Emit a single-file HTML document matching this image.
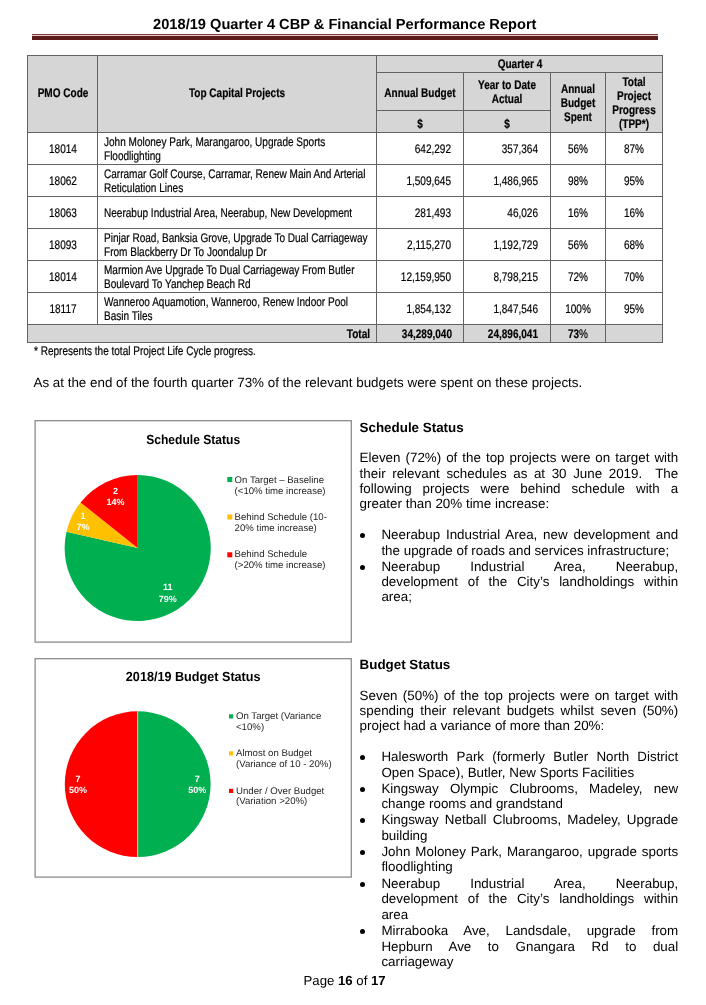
<!DOCTYPE html><html><head><meta charset='utf-8'><title>2018/19 Quarter 4 CBP &amp; Financial Performance Report</title><style>
*{margin:0;padding:0;box-sizing:border-box}
html,body{width:706px;height:1005px;background:#fff;overflow:hidden}
body{position:relative;font-family:"Liberation Sans",Arial,sans-serif;color:#000;text-rendering:geometricPrecision}
.a{position:absolute;white-space:nowrap}
.n{position:absolute;white-space:nowrap;font-size:12.5px;line-height:14px;height:14px;transform:scaleX(0.8024);-webkit-text-stroke:0.2px #000}
.nl{transform-origin:0 50%}
.nc{transform-origin:50% 50%;text-align:center}
.nr{transform-origin:100% 50%;text-align:right}
.b{font-weight:700}
.t{position:absolute;font-size:13.38px;line-height:15.39px;height:15.39px;white-space:pre-wrap;overflow:visible}
.j{text-align:justify;text-align-last:justify}
.ln{position:absolute;background:#626262}

.bul{position:absolute;width:5.2px;height:5.2px;border-radius:50%;background:#000}
svg text{font-family:"Liberation Sans",Arial,sans-serif}
</style></head><body>
<div class='a b' style='left:0;width:689.6px;text-align:center;top:17.06px;font-size:14.64px;line-height:17px'>2018/19 Quarter 4 CBP &amp; Financial Performance Report</div>
<div class='a' style='left:32px;top:34px;width:625.5px;height:1px;background:#7a3b3b'></div>
<div class='a' style='left:32px;top:35px;width:625.5px;height:1px;background:#e9c9c9'></div>
<div class='a' style='left:32px;top:36px;width:625.5px;height:3.5px;background:#5c1a1b'></div>
<div class='a' style='left:27px;top:55px;width:636px;height:77px;background:#d6d6d6'></div>
<div class='a' style='left:27px;top:324px;width:636px;height:17.5px;background:#d6d6d6'></div>
<div class='ln' style='left:27px;top:55px;width:636px;height:1px'></div>
<div class='ln' style='left:376px;top:72px;width:287px;height:1px'></div>
<div class='ln' style='left:376px;top:110px;width:175px;height:1px'></div>
<div class='ln' style='left:27px;top:132px;width:636px;height:1px'></div>
<div class='ln' style='left:27px;top:164px;width:636px;height:1px'></div>
<div class='ln' style='left:27px;top:196px;width:636px;height:1px'></div>
<div class='ln' style='left:27px;top:228px;width:636px;height:1px'></div>
<div class='ln' style='left:27px;top:260px;width:636px;height:1px'></div>
<div class='ln' style='left:27px;top:292px;width:636px;height:1px'></div>
<div class='ln' style='left:27px;top:324px;width:636px;height:1px'></div>
<div class='ln' style='left:27px;top:341.5px;width:636px;height:1px'></div>
<div class='ln' style='left:27px;top:55px;width:1px;height:287.5px'></div>
<div class='ln' style='left:662px;top:55px;width:1px;height:287.5px'></div>
<div class='ln' style='left:97px;top:55px;width:1px;height:270px'></div>
<div class='ln' style='left:376px;top:55px;width:1px;height:287.5px'></div>
<div class='ln' style='left:463px;top:72px;width:1px;height:270.5px'></div>
<div class='ln' style='left:550px;top:72px;width:1px;height:270.5px'></div>
<div class='ln' style='left:605px;top:72px;width:1px;height:270.5px'></div>
<div class='n nc b' style='left:-87.5px;width:300px;top:86.27px'>PMO Code</div>
<div class='n nc b' style='left:87px;width:300px;top:86.27px'>Top Capital Projects</div>
<div class='n nc b' style='left:369.5px;width:300px;top:57.27px'>Quarter 4</div>
<div class='n nc b' style='left:269.6px;width:300px;top:85.67px'>Annual Budget</div>
<div class='n nc b' style='left:357px;width:300px;top:78.17px'>Year to Date</div>
<div class='n nc b' style='left:357px;width:300px;top:92.27px'>Actual</div>
<div class='n nc b' style='left:269.5px;width:300px;top:116.97px'>$</div>
<div class='n nc b' style='left:357px;width:300px;top:116.97px'>$</div>
<div class='n nc b' style='left:427.79999999999995px;width:300px;top:82.37px'>Annual</div>
<div class='n nc b' style='left:427.79999999999995px;width:300px;top:96.27px'>Budget</div>
<div class='n nc b' style='left:427.79999999999995px;width:300px;top:110.17px'>Spent</div>
<div class='n nc b' style='left:483.79999999999995px;width:300px;top:75.47px'>Total</div>
<div class='n nc b' style='left:483.79999999999995px;width:300px;top:89.37px'>Project</div>
<div class='n nc b' style='left:483.79999999999995px;width:300px;top:103.27px'>Progress</div>
<div class='n nc b' style='left:483.79999999999995px;width:300px;top:117.17px'>(TPP*)</div>
<div class='n nc' style='left:-87.3px;width:300px;top:141.97px'>18014</div>
<div class='n nl' style='left:104px;top:134.87px'>John Moloney Park, Marangaroo, Upgrade Sports</div>
<div class='n nl' style='left:104px;top:149.07px'>Floodlighting</div>
<div class='n nr' style='left:150.60000000000002px;width:300px;top:141.97px'>642,292</div>
<div class='n nr' style='left:237.79999999999995px;width:300px;top:141.97px'>357,364</div>
<div class='n nc' style='left:428.29999999999995px;width:300px;top:141.97px'>56%</div>
<div class='n nc' style='left:484px;width:300px;top:141.97px'>87%</div>
<div class='n nc' style='left:-87.3px;width:300px;top:173.97px'>18062</div>
<div class='n nl' style='left:104px;top:166.87px'>Carramar Golf Course, Carramar, Renew Main And Arterial</div>
<div class='n nl' style='left:104px;top:181.07px'>Reticulation Lines</div>
<div class='n nr' style='left:150.60000000000002px;width:300px;top:173.97px'>1,509,645</div>
<div class='n nr' style='left:237.79999999999995px;width:300px;top:173.97px'>1,486,965</div>
<div class='n nc' style='left:428.29999999999995px;width:300px;top:173.97px'>98%</div>
<div class='n nc' style='left:484px;width:300px;top:173.97px'>95%</div>
<div class='n nc' style='left:-87.3px;width:300px;top:205.97px'>18063</div>
<div class='n nl' style='left:104px;top:205.97px'>Neerabup Industrial Area, Neerabup, New Development</div>
<div class='n nr' style='left:150.60000000000002px;width:300px;top:205.97px'>281,493</div>
<div class='n nr' style='left:237.79999999999995px;width:300px;top:205.97px'>46,026</div>
<div class='n nc' style='left:428.29999999999995px;width:300px;top:205.97px'>16%</div>
<div class='n nc' style='left:484px;width:300px;top:205.97px'>16%</div>
<div class='n nc' style='left:-87.3px;width:300px;top:237.97px'>18093</div>
<div class='n nl' style='left:104px;top:230.87px'>Pinjar Road, Banksia Grove, Upgrade To Dual Carriageway</div>
<div class='n nl' style='left:104px;top:245.07px'>From Blackberry Dr To Joondalup Dr</div>
<div class='n nr' style='left:150.60000000000002px;width:300px;top:237.97px'>2,115,270</div>
<div class='n nr' style='left:237.79999999999995px;width:300px;top:237.97px'>1,192,729</div>
<div class='n nc' style='left:428.29999999999995px;width:300px;top:237.97px'>56%</div>
<div class='n nc' style='left:484px;width:300px;top:237.97px'>68%</div>
<div class='n nc' style='left:-87.3px;width:300px;top:269.97px'>18014</div>
<div class='n nl' style='left:104px;top:262.87px'>Marmion Ave Upgrade To Dual Carriageway From Butler</div>
<div class='n nl' style='left:104px;top:277.07px'>Boulevard To Yanchep Beach Rd</div>
<div class='n nr' style='left:150.60000000000002px;width:300px;top:269.97px'>12,159,950</div>
<div class='n nr' style='left:237.79999999999995px;width:300px;top:269.97px'>8,798,215</div>
<div class='n nc' style='left:428.29999999999995px;width:300px;top:269.97px'>72%</div>
<div class='n nc' style='left:484px;width:300px;top:269.97px'>70%</div>
<div class='n nc' style='left:-87.3px;width:300px;top:301.97px'>18117</div>
<div class='n nl' style='left:104px;top:294.87px'>Wanneroo Aquamotion, Wanneroo, Renew Indoor Pool</div>
<div class='n nl' style='left:104px;top:309.07px'>Basin Tiles</div>
<div class='n nr' style='left:150.60000000000002px;width:300px;top:301.97px'>1,854,132</div>
<div class='n nr' style='left:237.79999999999995px;width:300px;top:301.97px'>1,847,546</div>
<div class='n nc' style='left:428.29999999999995px;width:300px;top:301.97px'>100%</div>
<div class='n nc' style='left:484px;width:300px;top:301.97px'>95%</div>
<div class='n nr b' style='left:69.5px;width:300px;top:326.82px'>Total</div>
<div class='n nr b' style='left:151.8px;width:300px;top:326.82px'>34,289,040</div>
<div class='n nr b' style='left:237.79999999999995px;width:300px;top:326.82px'>24,896,041</div>
<div class='n nc' style='left:428.29999999999995px;width:300px;top:326.82px'><b>73</b>%</div>
<div class='n nl' style='left:34px;top:344.27px'>* Represents the total Project Life Cycle progress.</div>
<div class='t' style='left:33.5px;top:374.95px;'>As at the end of the fourth quarter 73% of the relevant budgets were spent on these projects.</div>
<div class='t b' style='left:359.6px;top:419.95px;'>Schedule Status</div>
<div class='t j' style='left:359.6px;top:449.95px;width:318.6px;'>Eleven (72%) of the top projects were on target with</div>
<div class='t j' style='left:359.6px;top:465.95px;width:318.6px;'>their relevant schedules as at 30 June 2019.  The</div>
<div class='t j' style='left:359.6px;top:480.95px;width:318.6px;'>following projects were behind schedule with a</div>
<div class='t' style='left:359.6px;top:495.95px;'>greater than 20% time increase:</div>
<div class='bul' style='left:360.0px;top:533.20px'></div>
<div class='t j' style='left:381.4px;top:526.95px;width:296.80000000000007px;'>Neerabup Industrial Area, new development and</div>
<div class='t' style='left:381.4px;top:542.95px;'>the upgrade of roads and services infrastructure;</div>
<div class='bul' style='left:360.0px;top:564.70px'></div>
<div class='t j' style='left:381.4px;top:558.95px;width:296.80000000000007px;'>Neerabup Industrial Area, Neerabup,</div>
<div class='t j' style='left:381.4px;top:573.95px;width:296.80000000000007px;'>development of the City’s landholdings within</div>
<div class='t' style='left:381.4px;top:588.95px;'>area;</div>
<div class='t b' style='left:359.6px;top:656.95px;'>Budget Status</div>
<div class='t j' style='left:359.6px;top:687.95px;width:318.6px;'>Seven (50%) of the top projects were on target with</div>
<div class='t j' style='left:359.6px;top:702.95px;width:318.6px;'>spending their relevant budgets whilst seven (50%)</div>
<div class='t' style='left:359.6px;top:717.95px;'>project had a variance of more than 20%:</div>
<div class='bul' style='left:360.0px;top:755.20px'></div>
<div class='t j' style='left:381.4px;top:748.95px;width:296.80000000000007px;'>Halesworth Park (formerly Butler North District</div>
<div class='t' style='left:381.4px;top:764.95px;'>Open Space), Butler, New Sports Facilities</div>
<div class='bul' style='left:360.0px;top:787.00px'></div>
<div class='t j' style='left:381.4px;top:780.95px;width:296.80000000000007px;'>Kingsway Olympic Clubrooms, Madeley, new</div>
<div class='t' style='left:381.4px;top:795.95px;'>change rooms and grandstand</div>
<div class='bul' style='left:360.0px;top:818.20px'></div>
<div class='t j' style='left:381.4px;top:811.95px;width:296.80000000000007px;'>Kingsway Netball Clubrooms, Madeley, Upgrade</div>
<div class='t' style='left:381.4px;top:827.95px;'>building</div>
<div class='bul' style='left:360.0px;top:850.00px'></div>
<div class='t j' style='left:381.4px;top:843.95px;width:296.80000000000007px;'>John Moloney Park, Marangaroo, upgrade sports</div>
<div class='t' style='left:381.4px;top:858.95px;'>floodlighting</div>
<div class='bul' style='left:360.0px;top:882.10px'></div>
<div class='t j' style='left:381.4px;top:875.95px;width:296.80000000000007px;'>Neerabup Industrial Area, Neerabup,</div>
<div class='t j' style='left:381.4px;top:890.95px;width:296.80000000000007px;'>development of the City’s landholdings within</div>
<div class='t' style='left:381.4px;top:906.95px;'>area</div>
<div class='bul' style='left:360.0px;top:929.20px'></div>
<div class='t j' style='left:381.4px;top:922.95px;width:296.80000000000007px;'>Mirrabooka Ave, Landsdale, upgrade from</div>
<div class='t j' style='left:381.4px;top:938.95px;width:296.80000000000007px;'>Hepburn Ave to Gnangara Rd to dual</div>
<div class='t' style='left:381.4px;top:953.95px;'>carriageway</div>
<div class='t' style='left:303.5px;font-size:13.2px;top:972.93px'>Page <b>16</b> of <b>17</b></div>
<svg class='a' style='left:33px;top:418px' width='321' height='226' viewBox='33 418 321 226'><rect x='35.1' y='420.7' width='316.2' height='221.4' fill='#fff' stroke='#8c8c8c' stroke-width='1.3'/><text x='193.2' y='443.7' text-anchor='middle' font-size='13.2' font-weight='700' fill='#000' textLength='94' lengthAdjust='spacingAndGlyphs'>Schedule Status</text><path d='M137.70,548.05 L137.70,475.00 A73.05,73.05 0 1 1 66.48,531.79 Z' fill='#00b050'/><path d='M137.70,548.05 L66.48,531.79 A73.05,73.05 0 0 1 80.59,502.50 Z' fill='#ffc000'/><path d='M137.70,548.05 L80.59,502.50 A73.05,73.05 0 0 1 137.70,475.00 Z' fill='#ff0000'/><text x='115.5' y='493.5' text-anchor='middle' font-size='9' font-weight='700' fill='#fff'>2</text><text x='115.5' y='505.0' text-anchor='middle' font-size='9' font-weight='700' fill='#fff'>14%</text><text x='83.1' y='518.5' text-anchor='middle' font-size='9' font-weight='700' fill='#fff'>1</text><text x='83.1' y='530.0' text-anchor='middle' font-size='9' font-weight='700' fill='#fff'>7%</text><text x='167.8' y='590' text-anchor='middle' font-size='9' font-weight='700' fill='#fff'>11</text><text x='167.8' y='601.5' text-anchor='middle' font-size='9' font-weight='700' fill='#fff'>79%</text><rect x='227.3' y='477' width='5' height='5' fill='#00b050'/><text x='234.6' y='482.7' font-size='9.6' fill='#262626'>On Target – Baseline</text><text x='234.6' y='494.1' font-size='9.6' fill='#262626'>(&lt;10% time increase)</text><rect x='227.3' y='514.5' width='5' height='5' fill='#ffc000'/><text x='234.6' y='519.6' font-size='9.6' fill='#262626'>Behind Schedule (10-</text><text x='234.6' y='530.6' font-size='9.6' fill='#262626'>20% time increase)</text><rect x='227.3' y='552.3' width='5' height='5' fill='#ff0000'/><text x='234.6' y='557.4' font-size='9.6' fill='#262626'>Behind Schedule</text><text x='234.6' y='568.1' font-size='9.6' fill='#262626'>(&gt;20% time increase)</text></svg>
<svg class='a' style='left:33px;top:655.5px' width='321' height='223' viewBox='33 655.5 321 223'><rect x='35.1' y='658.2' width='316.2' height='218.4' fill='#fff' stroke='#8c8c8c' stroke-width='1.3'/><text x='193.2' y='680.7' text-anchor='middle' font-size='13.2' font-weight='700' fill='#000' textLength='134.7' lengthAdjust='spacingAndGlyphs'>2018/19 Budget Status</text><path d='M137.70,783.70 L137.70,710.80 A72.9,72.9 0 0 1 137.70,856.60 Z' fill='#00b050'/><path d='M137.70,783.70 L137.70,856.60 A72.9,72.9 0 0 1 137.70,710.80 Z' fill='#ff0000'/><text x='78' y='781.3' text-anchor='middle' font-size='9' font-weight='700' fill='#fff'>7</text><text x='78' y='792.8' text-anchor='middle' font-size='9' font-weight='700' fill='#fff'>50%</text><text x='197.3' y='781.3' text-anchor='middle' font-size='9' font-weight='700' fill='#fff'>7</text><text x='197.3' y='792.8' text-anchor='middle' font-size='9' font-weight='700' fill='#fff'>50%</text><rect x='229' y='713.8' width='4.2' height='4.2' fill='#00b050'/><text x='236' y='718.9' font-size='9.65' fill='#262626'>On Target (Variance</text><text x='236' y='729.1' font-size='9.65' fill='#262626'>&lt;10%)</text><rect x='229' y='750.8' width='4.2' height='4.2' fill='#ffc000'/><text x='236' y='755.9' font-size='9.65' fill='#262626'>Almost on Budget</text><text x='236' y='766.6' font-size='9.65' fill='#262626'>(Variance of 10 - 20%)</text><rect x='229' y='788.3' width='4.2' height='4.2' fill='#ff0000'/><text x='236' y='793.4' font-size='9.65' fill='#262626'>Under / Over Budget</text><text x='236' y='803.6' font-size='9.65' fill='#262626'>(Variation &gt;20%)</text><line x1='137.7' y1='710.8' x2='137.7' y2='856.6' stroke='#ffe9b0' stroke-width='0.8'/></svg>
</body></html>
